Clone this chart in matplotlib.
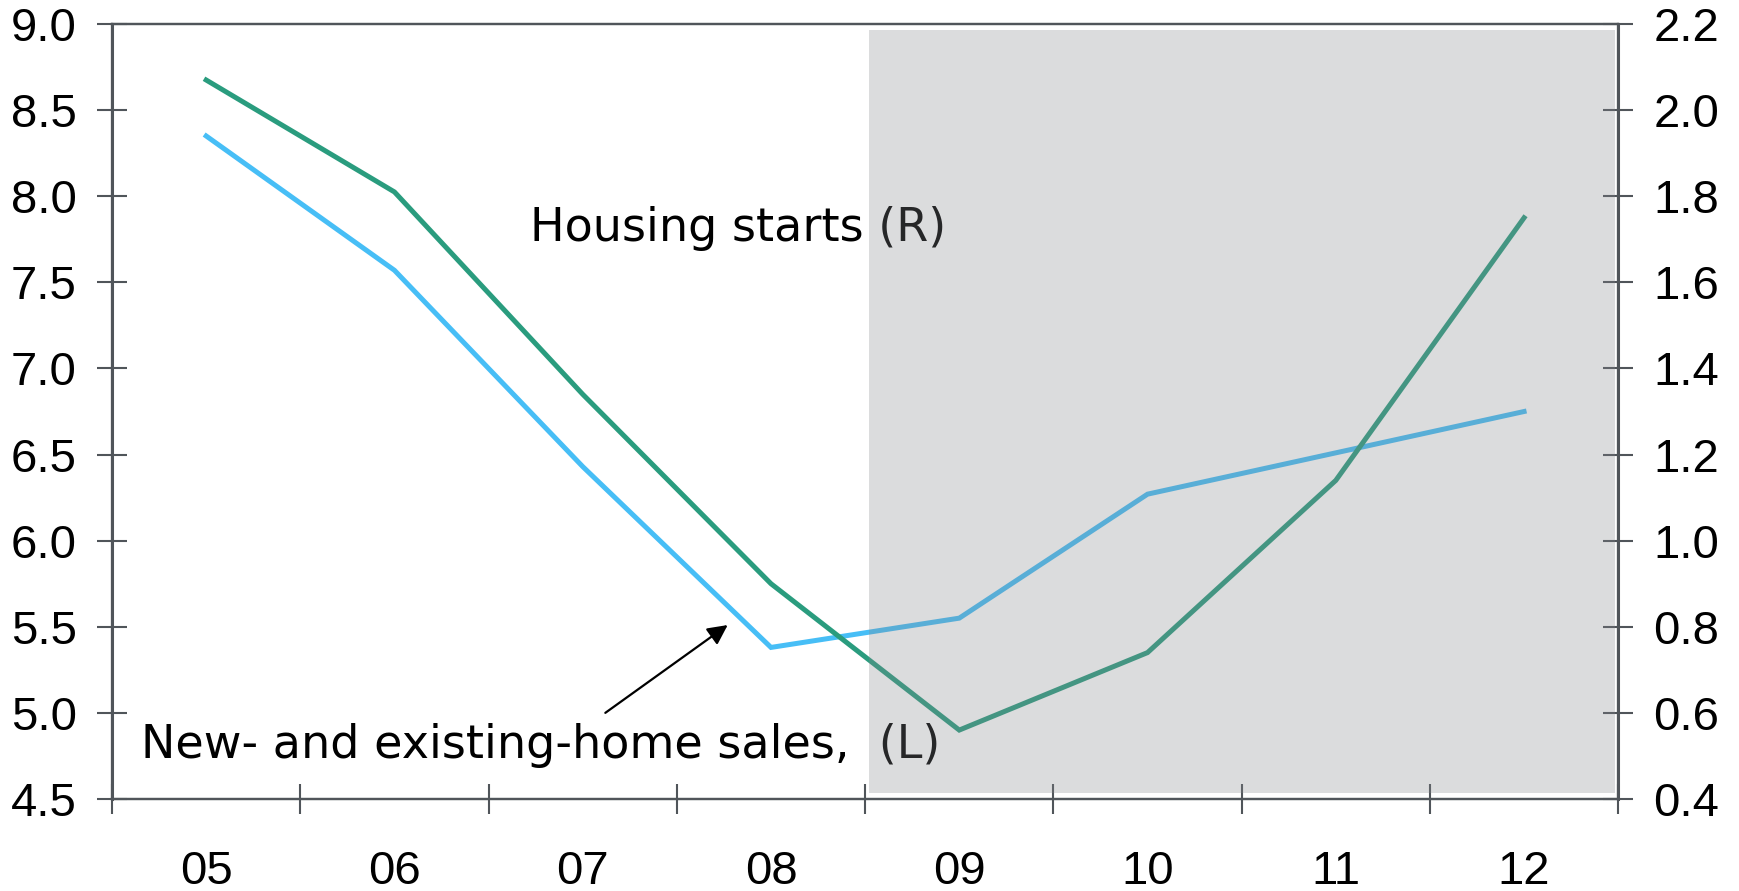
import matplotlib
matplotlib.use("Agg")
from matplotlib import pyplot as plt

# years and values
years = ["05", "06", "07", "08", "09", "10", "11", "12"]
home_sales = [8.35, 7.57, 6.43, 5.38, 5.55, 6.27, 6.51, 6.75]      # left axis
housing_starts = [2.07, 1.81, 1.34, 0.90, 0.56, 0.74, 1.14, 1.75]  # right axis
left_ticks = [4.5, 5.0, 5.5, 6.0, 6.5, 7.0, 7.5, 8.0, 8.5, 9.0]
right_ticks = [0.4, 0.6, 0.8, 1.0, 1.2, 1.4, 1.6, 1.8, 2.0, 2.2]

spine_col = "#50555a"
tick_font = "Liberation Sans"
label_font = "DejaVu Sans"

fig = plt.figure(figsize=(17.4, 8.91), dpi=100)
ax = fig.add_axes([0.0644, 0.1033, 0.8656, 0.8697])
ax2 = ax.twinx()

xs = [i + 0.5 for i in range(len(years))]
ax.plot(xs, home_sales, color="#47bef6", lw=3.6, zorder=2, solid_joinstyle="miter")
ax2.plot(xs, housing_starts, color="#2a9c7e", lw=3.6, zorder=2, solid_joinstyle="miter")

ax.set_xlim(0, 8)
ax.set_ylim(4.5, 9.0)
ax2.set_ylim(0.4, 2.2)
ax.set_yticks(left_ticks)
ax.set_yticklabels([f"{v:.1f}" for v in left_ticks])
ax2.set_yticks(right_ticks)
ax2.set_yticklabels([f"{v:.1f}" for v in right_ticks])
ax.set_xticks(range(0, 9))
ax.set_xticklabels([])
ax.set_xticks(xs, minor=True)
ax.set_xticklabels(years, minor=True)

ax.tick_params(axis="x", which="major", direction="inout", length=21, width=1.5, color=spine_col)
ax.tick_params(axis="x", which="minor", length=0, pad=37, labelsize=34)
ax.tick_params(axis="y", direction="inout", length=21, width=1.5, color=spine_col, pad=15, labelsize=34)
ax2.tick_params(axis="y", direction="inout", length=21, width=1.5, color=spine_col, pad=15, labelsize=34)
for lab in ax.get_yticklabels() + ax2.get_yticklabels() + ax.get_xticklabels(minor=True):
    lab.set_fontfamily(tick_font)

for a in (ax, ax2):
    for s in a.spines.values():
        s.set_color(spine_col)
        s.set_linewidth(1.6)
ax.spines["left"].set_linewidth(2.2)
ax2.spines["right"].set_linewidth(2.2)

# labels
ax.text(2.22, 7.81, "Housing starts (R)", fontsize=33.2, family=label_font,
        va="center", ha="left", zorder=1)
ax.text(0.154, 4.81, "New- and existing-home sales,  (L)", fontsize=33.2, family=label_font,
        va="center", ha="left", zorder=1)
ax.annotate("", xy=(3.27, 5.51), xytext=(2.62, 5.0),
            arrowprops=dict(arrowstyle="-|>", color="black", lw=1.6,
                            mutation_scale=30, shrinkA=0, shrinkB=0))

# forecast shading, drawn over the lines
ax2.axvspan(4.02, 7.985, ymin=0.008, ymax=0.992, facecolor="#85878c",
            alpha=0.29, lw=0, zorder=5)

fig.savefig("out.png", dpi=100)
